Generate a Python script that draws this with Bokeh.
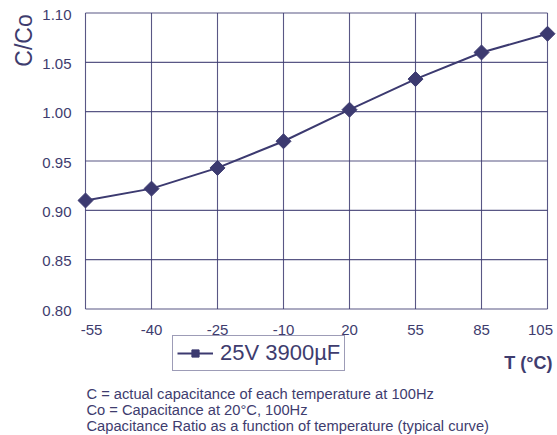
import numpy as np
from bokeh.plotting import figure
from bokeh.models import Range1d, Label, Legend, LegendItem
from bokeh.core.properties import value
from bokeh.embed import file_html
from bokeh.resources import INLINE

# ---- data ----
temps = ["-55", "-40", "-25", "-10", "20", "55", "85", "105"]
ratio = [0.910, 0.922, 0.943, 0.970, 1.002, 1.033, 1.060, 1.079]
y_ticks = [0.80, 0.85, 0.90, 0.95, 1.00, 1.05, 1.10]
series_name = "25V 3900µF"
y_title = "C/Co"
x_title = "T (°C)"
notes = ["C = actual capacitance of each temperature at 100Hz",
         "Co = Capacitance at 20°C, 100Hz",
         "Capacitance Ratio as a function of temperature (typical curve)"]

# ---- style / layout ----
NAVY = "#3c3a70"
TXT = "#3e3c6e"
FONT = "Liberation Sans"
W, H = 557, 435
L, R, T, B = 85, 547, 12.5, 308.5   # plot box in pixels

xs = list(range(len(temps)))
kx = (R - L) / (xs[-1] - xs[0])
ky = (B - T) / (y_ticks[-1] - y_ticks[0])
x_rng = Range1d(xs[0] - L / kx, xs[-1] + (W - R) / kx)
y_rng = Range1d(y_ticks[0] - (H - B) / ky, y_ticks[-1] + T / ky)

p = figure(width=W, height=H, output_backend="svg", toolbar_location=None,
           x_range=x_rng, y_range=y_rng, min_border=0)
p.axis.visible = False
p.grid.visible = False
p.outline_line_color = None
p.background_fill_color = "white"
p.border_fill_color = "white"

x0, x1 = xs[0], xs[-1]
y0, y1 = y_ticks[0], y_ticks[-1]

# grid (incl. box)
p.segment(x0=xs, y0=[y0] * len(xs), x1=xs, y1=[y1] * len(xs),
          line_color=NAVY, line_width=1.1, line_alpha=0.85)
p.segment(x0=[x0] * len(y_ticks), y0=y_ticks, x1=[x1] * len(y_ticks), y1=y_ticks,
          line_color=NAVY, line_width=1.1, line_alpha=0.85)

# data
ln = p.line(xs, ratio, line_color=NAVY, line_width=2)
sc = p.scatter(xs, ratio, marker="square", angle=np.pi / 4, size=10.6,
               fill_color=NAVY, line_color=NAVY)

# y tick labels
p.text(x=[x0] * len(y_ticks), y=y_ticks, text=[f"{t:.2f}" for t in y_ticks],
       x_offset=-14, y_offset=1.5, text_align="right", text_baseline="middle",
       text_font=value(FONT), text_font_size="15px", text_color=TXT)

# x tick labels
offs = [6] + [0] * (len(temps) - 2) + [-7]
p.text(x=xs, y=[y0] * len(xs), text=temps, x_offset=offs, y_offset=20.5,
       text_align="center", text_baseline="alphabetic",
       text_font=value(FONT), text_font_size="15px", text_color=TXT)

# y title
p.add_layout(Label(x=23, y=H - 40, x_units="screen", y_units="screen", text=y_title,
                   angle=np.pi / 2, text_align="center", text_baseline="middle",
                   text_font=FONT, text_font_size="23px", text_color=TXT))

# x title
p.add_layout(Label(x=552, y=H - 362.5, x_units="screen", y_units="screen", text=x_title,
                   text_align="right", text_baseline="alphabetic", text_font=FONT,
                   text_font_style="bold", text_font_size="18px", text_color=TXT))

# notes
for i, n in enumerate(notes):
    p.add_layout(Label(x=86, y=H - (393.5 + 16 * i), x_units="screen", y_units="screen",
                       text=n, text_align="left", text_baseline="alphabetic",
                       text_font=FONT, text_font_size="14.7px", text_color=TXT))

# legend
leg = Legend(items=[LegendItem(label=series_name, renderers=[ln, sc])],
             location=(172, H - 371), orientation="vertical",
             border_line_color=NAVY, border_line_width=1.5, background_fill_color="white",
             label_text_font=FONT, label_text_font_size="22px", label_text_color=TXT,
             glyph_width=36, glyph_height=18, label_standoff=7, padding=4, margin=0,
             label_height=20)
p.add_layout(leg, "center")

open("out.html", "w").write(file_html(p, INLINE))
